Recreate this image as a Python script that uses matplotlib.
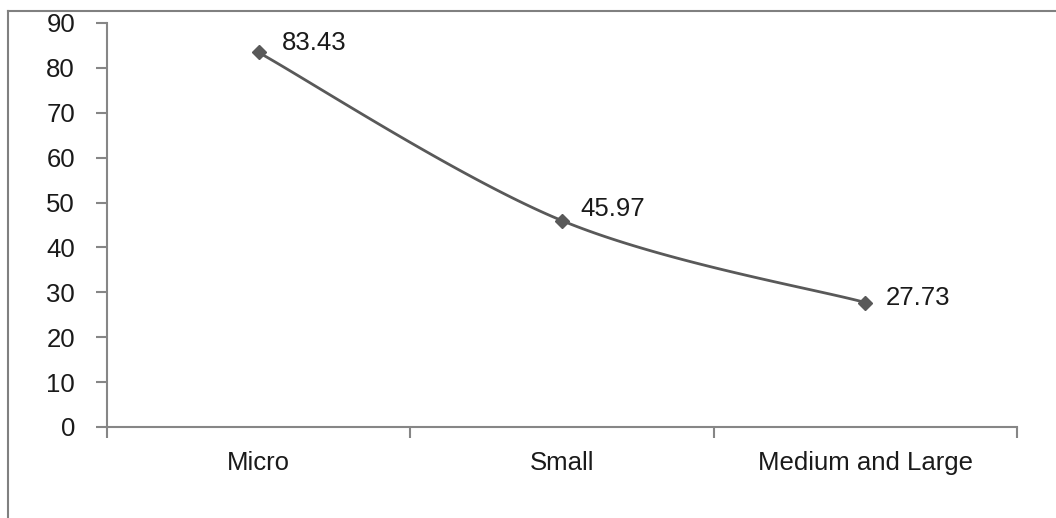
import numpy as np
import matplotlib
matplotlib.use("Agg")
import matplotlib.pyplot as plt
from matplotlib.lines import Line2D

categories = ["Micro", "Small", "Medium and Large"]
values = [83.43, 45.97, 27.73]
value_labels = ["83.43", "45.97", "27.73"]
y_ticks = [0, 10, 20, 30, 40, 50, 60, 70, 80, 90]

plt.rcParams['font.family'] = ['Liberation Sans', 'DejaVu Sans']

fig = plt.figure(figsize=(10.56, 5.18), dpi=100)
ax = fig.add_axes([107/1056, 1-427/518, (1017-107)/1056, (427-23)/518])

xs = np.arange(len(categories), dtype=float)
ys = np.array(values, dtype=float)

# Excel-like smoothed line (cubic Bezier through points, Catmull-Rom style control points)
def bezier_path(x, y, n=60):
    px, py = [], []
    m = len(x)
    for i in range(m - 1):
        p0 = np.array([x[max(i-1, 0)], y[max(i-1, 0)]])
        p1 = np.array([x[i], y[i]])
        p2 = np.array([x[i+1], y[i+1]])
        p3 = np.array([x[min(i+2, m-1)], y[min(i+2, m-1)]])
        c1 = p1 + (p2 - p0) / 6.0
        c2 = p2 - (p3 - p1) / 6.0
        t = np.linspace(0, 1, n)[:, None]
        pts = (1-t)**3*p1 + 3*(1-t)**2*t*c1 + 3*(1-t)*t**2*c2 + t**3*p2
        px.extend(pts[:, 0]); py.extend(pts[:, 1])
    return np.array(px), np.array(py)

cx, cy = bezier_path(xs, ys)
line_color = "#595959"
ax.plot(cx, cy, color=line_color, lw=2, solid_capstyle="round")
ax.plot(xs, ys, linestyle="none", marker="D", markersize=7, color=line_color)

offsets = [(17, 7), (13, 8.5), (14.5, 3.5)]
for x, y, lab, off in zip(xs, ys, value_labels, offsets):
    ax.annotate(lab, (x, y), xytext=off, textcoords="offset points",
                ha="left", va="center", fontsize=18.5, color="#1a1a1a")

ax.set_xlim(-0.5, len(categories) - 0.5)
ax.set_ylim(0, 90)
ax.set_yticks(y_ticks)
ax.set_yticklabels([str(v) for v in y_ticks])
ax.set_xticks(xs)
ax.set_xticklabels(categories)
ax.set_xticks(np.arange(len(categories) + 1) - 0.5, minor=True)

axis_color = "#868686"
for s in ["top", "right"]:
    ax.spines[s].set_visible(False)
for s in ["left", "bottom"]:
    ax.spines[s].set_color(axis_color)
    ax.spines[s].set_linewidth(1.5)

ax.tick_params(axis="y", direction="out", length=8, width=1.5, color=axis_color,
               labelsize=18.5, labelcolor="#1a1a1a", pad=15)
ax.tick_params(axis="x", which="major", length=0, labelsize=18.5, labelcolor="#1a1a1a", pad=17)
ax.tick_params(axis="x", which="minor", direction="out", length=8, width=1.5, color=axis_color)

# outer chart frame (partially visible)
fc = "#808080"
fig.add_artist(Line2D([7.5/1056, 7.5/1056], [0, 1-10.5/518], transform=fig.transFigure, color=fc, lw=1.5))
fig.add_artist(Line2D([7.5/1056, 1], [1-10.5/518, 1-10.5/518], transform=fig.transFigure, color=fc, lw=1.5))

fig.savefig("out.png", dpi=100)
